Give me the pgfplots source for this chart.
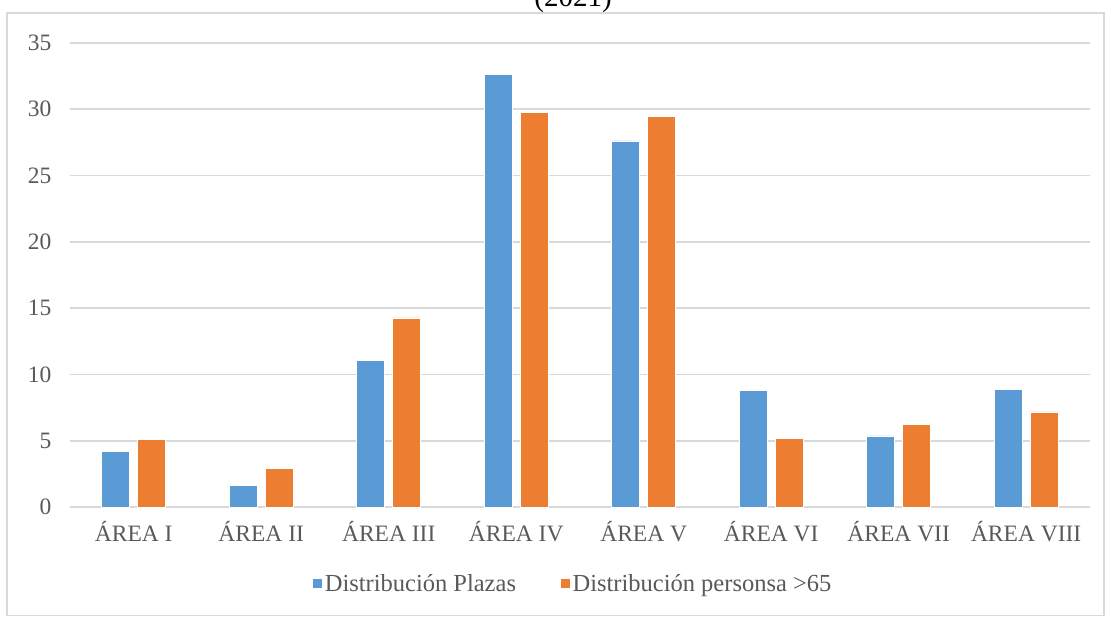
\documentclass[border=0pt]{standalone}
\usepackage{pgfplots}
\pgfplotsset{compat=1.18}
\usepackage{fontspec}
\setmainfont{Liberation Serif}
\definecolor{cblue}{HTML}{5B9BD5}
\definecolor{corange}{HTML}{ED7D31}
\definecolor{cgrid}{HTML}{D9D9D9}
\definecolor{ctext}{HTML}{595959}
\begin{document}
\begin{tikzpicture}
\begin{axis}[
  scale only axis,
  width=1020pt, height=464pt,
  xmin=-0.5, xmax=7.5, ymin=0, ymax=35,
  ytick={0,5,...,35},
  xtick={0,...,7},
  xticklabels={ÁREA I, ÁREA II, ÁREA III, ÁREA IV, ÁREA V, ÁREA VI, ÁREA VII, ÁREA VIII},
  axis line style={draw=none},
  major tick length=0pt,
  ymajorgrids, grid style={cgrid, line width=1.6pt},
  ticklabel style={font=\fontsize{23.5}{28}\selectfont, text=ctext},
  /pgf/number format/assume math mode=true,
  yticklabel style={xshift=-15pt},
  xticklabel style={yshift=-11pt},
  legend style={at={(0.493,-0.166)}, anchor=center, draw=none, fill=none,
    font=\fontsize{24.5}{29}\selectfont, text=ctext,
    legend columns=2,
    /tikz/every even column/.append style={column sep=42pt},
    nodes={inner sep=2pt}},
  legend image code/.code={\fill[#1] (0pt,-4pt) rectangle (10pt,6pt);},
]
\addplot[ybar, fill=cblue, draw=white, line width=0.6pt, bar width=0.22, bar shift=-0.141]
  coordinates {(0,4.17) (1,1.64) (2,11.06) (3,32.66) (4,27.61) (5,8.78) (6,5.36) (7,8.88)};
\addlegendentry{Distribución Plazas}
\addplot[ybar, fill=corange, draw=white, line width=0.6pt, bar width=0.22, bar shift=0.141]
  coordinates {(0,5.08) (1,2.94) (2,14.26) (3,29.74) (4,29.47) (5,5.15) (6,6.26) (7,7.17)};
\addlegendentry{Distribución personsa >65}
\coordinate (sw) at (rel axis cs:0,0);
\end{axis}
\pgfresetboundingbox
\path[use as bounding box] ([shift={(-70pt,-109pt)}]sw) rectangle ([shift={(1036pt,507pt)}]sw);
\draw[cgrid, line width=1.3pt] ([shift={(-63pt,-108.5pt)}]sw) rectangle ([shift={(1034pt,494pt)}]sw);
\node[anchor=base, font=\fontsize{29}{34}\selectfont, inner sep=0pt] at ([shift={(503pt,500pt)}]sw) {(2021)};
\end{tikzpicture}
\end{document}
